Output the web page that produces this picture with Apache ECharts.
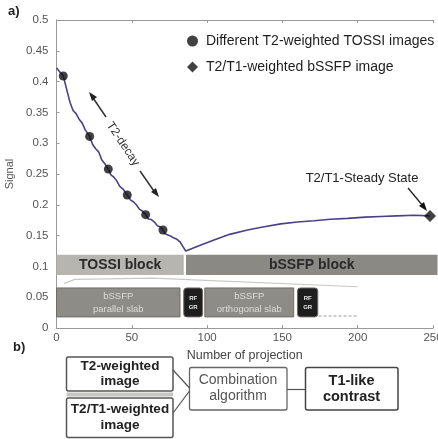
<!DOCTYPE html>
<html><head><meta charset="utf-8">
<script src="https://cdn.jsdelivr.net/npm/echarts@6/dist/echarts.min.js"></script>
<style>html,body{margin:0;padding:0;background:#fff}#c{width:438px;height:439px}</style>
</head><body><div id="c"></div>
<script>
// ---- data ----
const xTicks = [0, 50, 100, 150, 200, 250];
const yTicks = [0, 0.05, 0.1, 0.15, 0.2, 0.25, 0.3, 0.35, 0.4, 0.45, 0.5];
const curveX = [0,4.5,7,9,11,13,15,17,19,22,24,26,28,30,32,34.4,36,38,40,42,44,47,49,51,53,55,57,59.2,61,63,65,67,69,70.7,72,74,76,78,80,82,84,85.8,90,95,104.6,115,126.8,137,148.9,160,171,182,193.3,205,215.4,226,237.4,248];
const curveY = [0.422,0.409,0.385,0.366,0.353,0.348,0.339,0.333,0.322,0.311,0.298,0.291,0.286,0.273,0.267,0.258,0.249,0.245,0.239,0.230,0.226,0.216,0.208,0.205,0.200,0.193,0.190,0.184,0.177,0.176,0.172,0.166,0.164,0.159,0.153,0.151,0.149,0.146,0.144,0.140,0.132,0.125,0.129,0.134,0.143,0.152,0.159,0.164,0.169,0.172,0.174,0.1765,0.178,0.180,0.181,0.182,0.183,0.182];
const tossiX = [4.5, 22, 34.4, 47, 59.2, 70.7];
const tossiY = [0.409, 0.311, 0.258, 0.216, 0.184, 0.159];
const bssfpX = [248];
const bssfpY = [0.182];
const blockNames = ['TOSSI block', 'bSSFP block', 'bSSFP\nparallel slab', 'RF\nGR', 'bSSFP\northogonal slab', 'RF\nGR'];
const blockStart = [0, 86, 0, 84.5, 98.5, 160];
const blockEnd = [84.5, 253, 82, 97, 157.5, 173.5];
const blockLow = [0.086, 0.086, 0.018, 0.018, 0.018, 0.018];
const blockHigh = [0.119, 0.119, 0.065, 0.065, 0.065, 0.065];
const guideX = [5, 12, 64, 200];
const guideY = [0.072, 0.079, 0.081, 0.067];
const dashX = [174, 200];
const dashY = [0.0195, 0.0195];
const legendNames = ['Different T2-weighted TOSSI images', 'T2/T1-weighted bSSFP image'];

// ---- styles ----
const blockFill = ['#b7b5b0', '#8b8984', '#8e8c87', '#1e1e1e', '#8e8c87', '#1e1e1e'];
const blockText = ['#2a2a2a', '#2a2a2a', '#dcdcd8', '#e8e8e8', '#dcdcd8', '#e8e8e8'];
const blockFont = ['bold 14px Liberation Sans', 'bold 14px Liberation Sans', '9.5px Liberation Sans', 'bold 6px Liberation Sans', '9.5px Liberation Sans', 'bold 6px Liberation Sans'];

const zip = (a, b) => a.map((v, i) => [v, b[i]]);
const blocks = blockNames.map((n, i) => [blockStart[i], blockEnd[i], blockLow[i], blockHigh[i], i]);

const chart = echarts.init(document.getElementById('c'), null, {renderer: 'canvas'});
const FONT = 'Liberation Sans';
const axisCommon = {
  axisLine: {show: true, lineStyle: {color: '#9a9a9a', width: 1}},
  axisTick: {show: true, inside: true, length: 3, lineStyle: {color: '#9a9a9a'}},
  splitLine: {show: false}
};
chart.setOption({
  animation: false,
  backgroundColor: '#ffffff',
  textStyle: {fontFamily: FONT},
  grid: {left: 56.5, right: 5, top: 20, bottom: 111, containLabel: false, outerBoundsMode: 'none'},
  legend: {
    orient: 'vertical', left: 182, top: 29, itemGap: 12,
    itemWidth: 11, itemHeight: 11,
    textStyle: {fontSize: 14, color: '#1e1e1e', fontFamily: FONT, padding: [0, 0, 0, 3]},
    data: [{name: legendNames[0], icon: 'circle'}, {name: legendNames[1], icon: 'diamond'}]
  },
  xAxis: [
    Object.assign({type: 'value', min: 0, max: 250, interval: 50, position: 'bottom',
      axisLabel: {fontSize: 11.5, color: '#555', margin: 4, fontFamily: FONT,
        formatter: v => xTicks.indexOf(v) >= 0 ? String(v) : ''},
      name: 'Number of projection', nameLocation: 'middle', nameGap: 15,
      nameTextStyle: {fontSize: 12.5, color: '#444', fontFamily: FONT}}, axisCommon),
    Object.assign({type: 'value', min: 0, max: 250, interval: 50, position: 'top',
      axisLabel: {show: false}}, axisCommon)
  ],
  yAxis: Object.assign({type: 'value', min: 0, max: 0.5, interval: 0.05,
    axisLabel: {fontSize: 11.5, color: '#555', margin: 8, fontFamily: FONT,
      formatter: v => { const t = yTicks.find(k => Math.abs(k - v) < 1e-9); return t === undefined ? '' : String(+t.toFixed(2)); }},
    name: 'Signal', nameLocation: 'middle', nameGap: 40,
    nameTextStyle: {fontSize: 11, color: '#555', fontFamily: FONT}}, axisCommon),
  series: [
    {
      type: 'custom', name: 'blocks', data: blocks, z: 1, silent: true, clip: false,
      renderItem: (params, api) => {
        const i = api.value(4);
        const p0 = api.coord([api.value(0), api.value(3)]);
        const p1 = api.coord([api.value(1), api.value(2)]);
        const small = i >= 2;
        const tiny = (i === 3 || i === 5);
        return {
          type: 'group',
          children: [
            {type: 'rect', shape: {x: p0[0], y: p0[1], width: p1[0] - p0[0], height: p1[1] - p0[1], r: tiny ? 3 : 0},
             style: {fill: blockFill[i], stroke: small ? '#6e6c68' : null, lineWidth: small ? 1 : 0}},
            {type: 'text', x: (p0[0] + p1[0]) / 2, y: (p0[1] + p1[1]) / 2,
             style: {text: blockNames[i], fill: blockText[i], font: blockFont[i], align: 'center', verticalAlign: 'middle', lineHeight: tiny ? 9 : 13}}
          ]
        };
      }
    },
    {type: 'line', name: 'guide', data: zip(guideX, guideY), symbol: 'none', silent: true,
     lineStyle: {color: '#c8c8c4', width: 1.2}, z: 2},
    {type: 'line', name: 'dash', data: zip(dashX, dashY), symbol: 'none', silent: true,
     lineStyle: {color: '#9a9a96', width: 1, type: [3, 2]}, z: 2},
    {type: 'line', name: 'signal', data: zip(curveX, curveY), symbol: 'none', silent: true,
     lineStyle: {color: '#4a4189', width: 1.6}, z: 3},
    {type: 'scatter', name: legendNames[0], data: zip(tossiX, tossiY), symbol: 'circle', symbolSize: 9,
     itemStyle: {color: '#111'}, z: 4},
    {type: 'scatter', name: legendNames[1], data: zip(bssfpX, bssfpY), symbol: 'diamond', symbolSize: 12,
     itemStyle: {color: '#111'}, z: 4}
  ],
  graphic: [
    {type: 'text', left: 8, top: 5, style: {text: 'a)', font: 'bold 13px Liberation Sans', fill: '#222'}},
    {type: 'text', left: 13, top: 341, style: {text: 'b)', font: 'bold 13px Liberation Sans', fill: '#222'}},
    // T2-decay double arrow
    {type: 'line', shape: {x1: 91, y1: 95, x2: 106, y2: 117}, style: {stroke: '#333', lineWidth: 1.5}},
    {type: 'polygon', shape: {points: [[89, 92], [97, 97], [92, 101]]}, style: {fill: '#222'}},
    {type: 'line', shape: {x1: 140, y1: 171, x2: 156, y2: 194}, style: {stroke: '#333', lineWidth: 1.5}},
    {type: 'polygon', shape: {points: [[159, 197], [151, 192], [156, 188]]}, style: {fill: '#222'}},
    {type: 'text', x: 123, y: 144, rotation: -0.983,
     style: {text: 'T2-decay', font: '12px Liberation Sans', fill: '#333', align: 'center', verticalAlign: 'middle'}},
    // steady state annotation
    {type: 'text', x: 362, y: 178, style: {text: 'T2/T1-Steady State', font: '13px Liberation Sans', fill: '#222', align: 'center', verticalAlign: 'middle'}},
    {type: 'line', shape: {x1: 408, y1: 188, x2: 423, y2: 206}, style: {stroke: '#222', lineWidth: 1.3}},
    {type: 'polygon', shape: {points: [[427, 211], [419, 206], [424, 202]]}, style: {fill: '#111'}},
    // flowchart
    {type: 'rect', shape: {x: 66.5, y: 357, width: 106.5, height: 34, r: 2}, style: {fill: '#fff', stroke: '#555', lineWidth: 1.5}},
    {type: 'rect', shape: {x: 66.5, y: 392.5, width: 106.5, height: 4}, style: {fill: '#c6c6c4'}},
    {type: 'rect', shape: {x: 66.5, y: 398, width: 106.5, height: 39.5, r: 2}, style: {fill: '#fff', stroke: '#555', lineWidth: 1.5}},
    {type: 'rect', shape: {x: 189.5, y: 367.5, width: 97.5, height: 42.5, r: 2}, style: {fill: '#fff', stroke: '#666', lineWidth: 1.3}},
    {type: 'rect', shape: {x: 305.5, y: 367.5, width: 92.5, height: 42.5, r: 2}, style: {fill: '#fff', stroke: '#444', lineWidth: 1.5}},
    {type: 'line', shape: {x1: 173, y1: 370, x2: 189.5, y2: 388}, style: {stroke: '#555', lineWidth: 1.2}},
    {type: 'line', shape: {x1: 173, y1: 413, x2: 189.5, y2: 391}, style: {stroke: '#555', lineWidth: 1.2}},
    {type: 'line', shape: {x1: 287, y1: 389.5, x2: 305.5, y2: 389.5}, style: {stroke: '#555', lineWidth: 1.2}},
    {type: 'text', x: 120, y: 374, style: {text: 'T2-weighted\nimage', font: 'bold 13.5px Liberation Sans', fill: '#222', align: 'center', verticalAlign: 'middle', lineHeight: 14.5}},
    {type: 'text', x: 120, y: 417.5, style: {text: 'T2/T1-weighted\nimage', font: 'bold 13.5px Liberation Sans', fill: '#222', align: 'center', verticalAlign: 'middle', lineHeight: 16}},
    {type: 'text', x: 238, y: 388.5, style: {text: 'Combination\nalgorithm', font: '14px Liberation Sans', fill: '#555', align: 'center', verticalAlign: 'middle', lineHeight: 16}},
    {type: 'text', x: 351.5, y: 388.5, style: {text: 'T1-like\ncontrast', font: 'bold 14.5px Liberation Sans', fill: '#222', align: 'center', verticalAlign: 'middle', lineHeight: 16}}
  ]
});
</script></body></html>
